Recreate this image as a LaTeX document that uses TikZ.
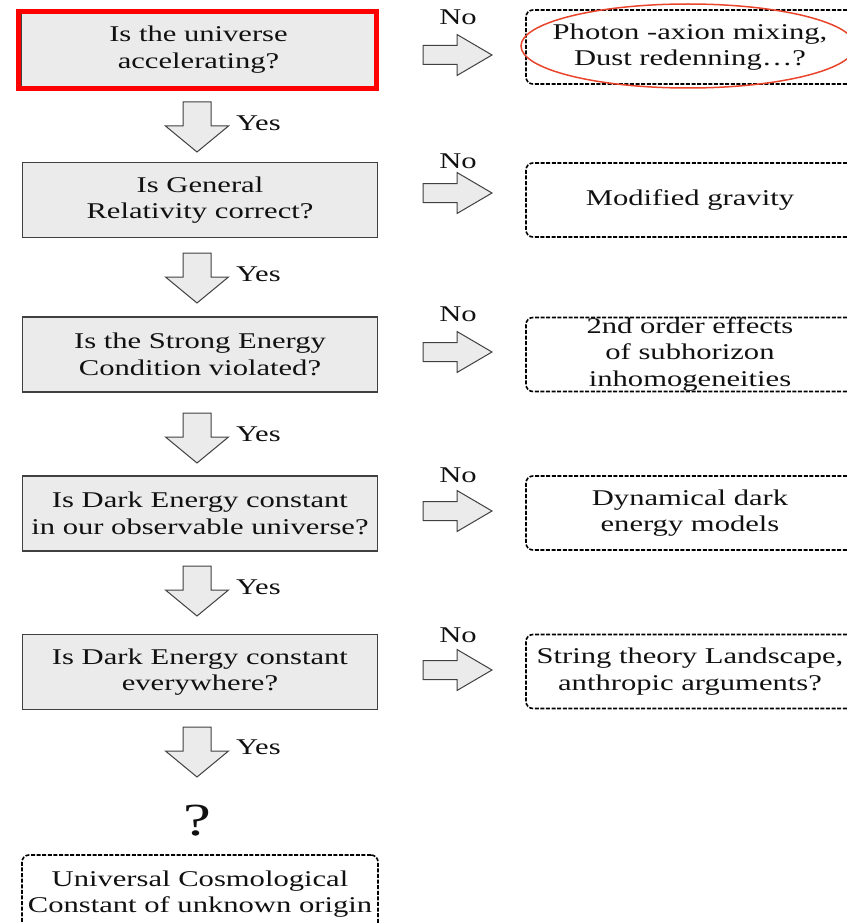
\documentclass[tikz,border=0pt]{standalone}
\usepackage{fontspec}
\setmainfont[FakeStretch=1.36]{Liberation Serif}
\usetikzlibrary{shapes.geometric}
\definecolor{boxfill}{HTML}{EBEBEB}
\definecolor{boxline}{HTML}{404040}
\definecolor{txt}{HTML}{111111}
\definecolor{hlred}{HTML}{E8452C}
\tikzset{
  x=1pt, y=-1pt,
  every node/.style={text=txt, font=\fontsize{22.5}{26.5}\selectfont, align=center, inner sep=0pt},
  qbox/.style={draw=boxline, fill=boxfill, line width=1.4pt, minimum width=355pt, minimum height=75pt},
  abox/.style={draw=black, line width=1.6pt, dash pattern=on 4pt off 1.6pt, rounded corners=7pt, minimum width=328pt, minimum height=74pt},
  blockarr/.style={draw=boxline, fill=boxfill, line width=1pt, line join=miter},
  lbl/.style={anchor=base},
}
\newcommand\downblock[1]{\draw[blockarr] (#1) ++(-14,0) -- ++(28,0) -- ++(0,24) -- ++(17.5,0) -- ++(-31.5,26) -- ++(-31.5,-26) -- ++(17.5,0) -- cycle;}
\newcommand\rightblock[1]{\draw[blockarr] (#1) ++(0,-9.5) -- ++(34,0) -- ++(0,-11) -- ++(35,20.5) -- ++(-35,20.5) -- ++(0,-11) -- ++(-34,0) -- cycle;}
\begin{document}
\begin{tikzpicture}
\useasboundingbox (0,0) rectangle (846,923);
% question boxes
\node[qbox] (q1) at (198.5,49.5) {Is the universe\\accelerating?};
\node[qbox] (q2) at (200,200) {Is General\\Relativity correct?};
\node[qbox] (q3) at (200,354.5) {Is the Strong Energy\\Condition violated?};
\node[qbox] (q4) at (200,513.5) {Is Dark Energy constant\\in our observable universe?};
\node[qbox] (q5) at (200,672) {Is Dark Energy constant\\everywhere?};
% red highlight of first box
\draw[red, line width=5pt] (18.5,11.5) rectangle (376.5,88.5);
% answer boxes
\node[abox] (a1) at (690,47) {Photon -axion mixing,\\Dust redenning…?};
\node[abox] (a2) at (690,200) {Modified gravity};
\node[abox] (a3) at (690,354.5) {2nd order effects\\of subhorizon\\inhomogeneities};
\node[abox] (a4) at (690,513) {Dynamical dark\\energy models};
\node[abox] (a5) at (690,671.5) {String theory Landscape,\\anthropic arguments?};
\node[abox, minimum width=356pt, minimum height=78pt] (a6) at (200,894) {Universal Cosmological\\Constant of unknown origin};
% highlight ellipse
\node[draw=hlred, line width=1.5pt, ellipse, minimum width=334pt, minimum height=84pt] (hl) at (688,46) {};
% question mark
\node (qm) at (197,821) {\fontsize{46}{46}\selectfont ?};
% down arrows
\coordinate (d1) at (197,102);
\coordinate (d2) at (197,253);
\coordinate (d3) at (197,413);
\coordinate (d4) at (197,566);
\coordinate (d5) at (197,727);
\foreach \c in {d1,d2,d3,d4,d5}{\downblock{\c}}
\node[lbl, anchor=base west] (y1) at (236,131) {Yes};
\node[lbl, anchor=base west] (y2) at (236,281) {Yes};
\node[lbl, anchor=base west] (y3) at (236,441) {Yes};
\node[lbl, anchor=base west] (y4) at (236,594) {Yes};
\node[lbl, anchor=base west] (y5) at (236,754) {Yes};
% right arrows
\coordinate (r1) at (423,55);
\coordinate (r2) at (423,193);
\coordinate (r3) at (423,352);
\coordinate (r4) at (423,511);
\coordinate (r5) at (423,670);
\foreach \c in {r1,r2,r3,r4,r5}{\rightblock{\c}}
\node[lbl] (n1) at (458,25) {No};
\node[lbl] (n2) at (458,168) {No};
\node[lbl] (n3) at (458,321) {No};
\node[lbl] (n4) at (458,482) {No};
\node[lbl] (n5) at (458,642) {No};
\end{tikzpicture}
\end{document}
